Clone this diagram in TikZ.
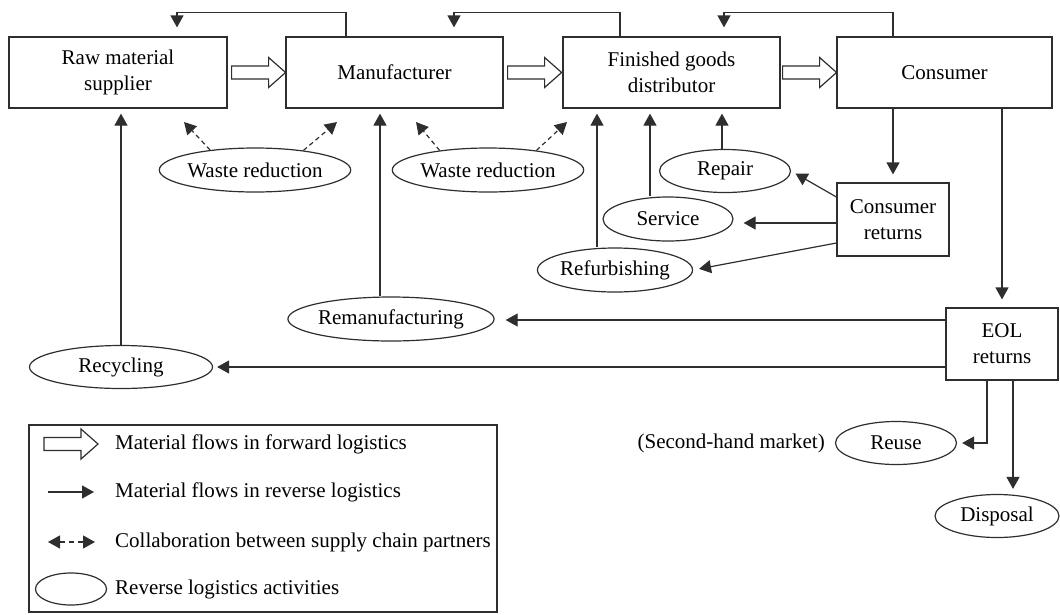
\documentclass[tikz,border=0pt]{standalone}
\usepackage{fontspec}
\setmainfont{Liberation Serif}
\usetikzlibrary{arrows.meta,shapes.geometric,calc}
\begin{document}
\begin{tikzpicture}[x=1pt,y=-1pt,
  font=\fontsize{21}{26}\selectfont,
  ln/.style={draw=black!82, line width=1.2pt},
  box/.style={ln, rectangle, inner sep=0pt, align=center},
  act/.style={ln, ellipse, inner sep=0pt},
  rev/.style={ln, -{Triangle[length=12pt,width=13pt]}},
  coll/.style={ln, dash pattern=on 4.5pt off 3.5pt, -{Triangle[length=12pt,width=13pt]}},
  lgtext/.style={anchor=west, inner sep=0pt},
  fwd/.pic={\draw[ln, fill=white] (0,-6.5) -- (37,-6.5) -- (37,-15) -- (54,0) -- (37,15) -- (37,6.5) -- (0,6.5) -- cycle;}
]
\useasboundingbox (0,0) rectangle (1060,614);

% main chain
\node[box, minimum width=218, minimum height=71] (raw) at (118,72.5) {Raw material\\supplier};
\node[box, minimum width=217, minimum height=71] (man) at (394.5,72.5) {Manufacturer};
\node[box, minimum width=217, minimum height=71] (dist) at (671.5,72.5) {Finished goods\\distributor};
\node[box, minimum width=215, minimum height=71] (cons) at (944.5,72.5) {Consumer};
\node[box, minimum width=112, minimum height=73] (cr) at (893,219.5) {Consumer\\returns};
\node[box, minimum width=112, minimum height=72] (eol) at (1002,344) {EOL\\returns};

% activities
\node[act, minimum width=175, minimum height=44] (waste1) at (255,170) {Waste reduction};
\node[act, minimum width=175, minimum height=44] (waste2) at (488,170) {Waste reduction};
\node[act, minimum width=131, minimum height=43] (repair) at (725,171) {Repair};
\node[act, minimum width=130, minimum height=44] (service) at (668,219) {Service};
\node[act, minimum width=147, minimum height=44] (refurb) at (615,270) {Refurbishing};
\node[act, minimum width=183, minimum height=44] (reman) at (391,319) {Remanufacturing};
\node[act, minimum width=183, minimum height=43] (recyc) at (121,367) {Recycling};
\node[act, minimum width=121, minimum height=43] (reuse) at (896,443) {Reuse};
\node[act, minimum width=124, minimum height=43] (disp) at (997,516) {Disposal};
\node[anchor=east, inner sep=0pt] (shm) at (825,443) {(Second-hand market)};

% forward flows
\pic (fa) at ([xshift=4pt]raw.east) {fwd};
\pic (fb) at ([xshift=4pt]man.east) {fwd};
\pic (fc) at ([xshift=2pt]dist.east) {fwd};

% top feedback loops
\draw[rev, shorten >=9pt] ([xshift=-48.5pt]man.north) -- ++(0,-24) -| ([xshift=59pt]raw.north);
\draw[rev, shorten >=9pt] ([xshift=-51.5pt]dist.north) -- ++(0,-24) -| ([xshift=59.5pt]man.north);
\draw[rev, shorten >=9pt] ([xshift=-51.5pt]cons.north) -- ++(0,-24) -| ([xshift=52.5pt]dist.north);

% collaboration
\coordinate (w1a) at (184,122);
\coordinate (w1b) at (337,122);
\coordinate (w2a) at (416,122);
\coordinate (w2b) at (567,122);
\draw[coll] (waste1.156) -- (w1a);
\draw[coll] (waste1.22) -- (w1b);
\draw[coll] (waste2.158) -- (w2a);
\draw[coll] (waste2.22) -- (w2b);

% reverse flows up into chain
\draw[rev, shorten >=5pt] (recyc.north) -- (recyc.north |- raw.south);
\path ([xshift=-11pt]reman.north) coordinate (rm)
      ([xshift=-18pt]refurb.north) coordinate (rf)
      ([xshift=-18pt]service.north) coordinate (sv)
      ([xshift=-3pt]repair.north) coordinate (rp);
\draw[rev, shorten >=5pt] (rm) -- (rm |- man.south);
\draw[rev, shorten >=5pt] (rf) -- (rf |- dist.south);
\draw[rev, shorten >=5pt] (sv) -- (sv |- dist.south);
\draw[rev, shorten >=5pt] (rp) -- (rp |- dist.south);

% consumer returns
\draw[rev, shorten >=8pt] (cons.south -| cr.north) -- (cr.north);
\draw[rev, shorten >=8pt] (cons.south -| eol.north) -- (eol.north);
\draw[rev, shorten >=5pt] ([yshift=22.5pt]cr.west) -- (repair.east);
\path ([yshift=-3.5pt]cr.west) coordinate (crs);
\draw[rev, shorten >=10pt] (crs) -- (crs -| service.east);
\draw[rev, shorten >=6pt] ([yshift=-23.5pt]cr.west) -- (refurb.east);

% EOL returns
\path ([yshift=24pt]eol.west) coordinate (e1)
      ([yshift=-23pt]eol.west) coordinate (e2)
      ([xshift=-15pt]eol.south) coordinate (e3)
      ([xshift=11pt]eol.south) coordinate (e4);
\draw[rev, shorten >=11pt] (e1) -- (e1 -| reman.east);
\draw[rev, shorten >=4pt] (e2) -- (e2 -| recyc.east);
\draw[rev, shorten >=5pt] (e3) |- (reuse.east);
\draw[rev, shorten >=5pt] (e4) -- (e4 |- disp.north);

% legend
\node[ln, rectangle, inner sep=0pt, minimum width=468, minimum height=187] (leg) at (263,518.5) {};
\pic (lf) at (44,444) {fwd};
\coordinate (l2a) at (48,492);
\coordinate (l2b) at (94,492);
\draw[rev] (l2a) -- (l2b);
\coordinate (l3a) at (48,542);
\coordinate (l3b) at (95,542);
\draw[coll, dash pattern=on 5pt off 4pt, {Triangle[length=12pt,width=13pt]}-{Triangle[length=12pt,width=13pt]}] (l3a) -- (l3b);
\node[act, minimum width=71, minimum height=32] (l4) at (71,589) {};
\node[lgtext] (t1) at (115,444) {Material flows in forward logistics};
\node[lgtext] (t2) at (115,492) {Material flows in reverse logistics};
\node[lgtext] (t3) at (115,542) {Collaboration between supply chain partners};
\node[lgtext] (t4) at (115,589) {Reverse logistics activities};
\end{tikzpicture}
\end{document}
